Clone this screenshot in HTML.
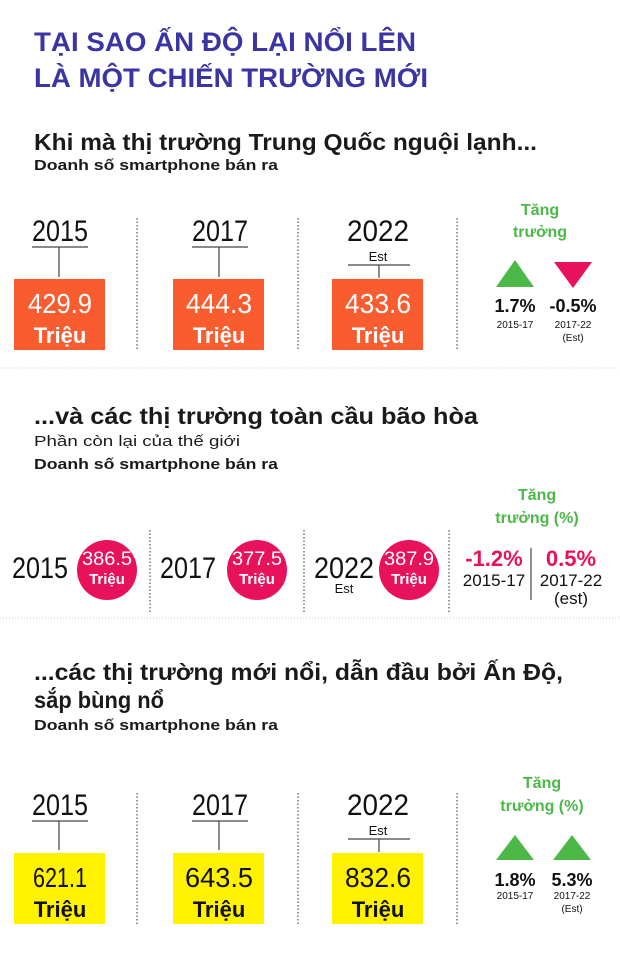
<!DOCTYPE html>
<html><head><meta charset="utf-8"><style>
html,body{margin:0;padding:0;background:#fff;}
svg{display:block;font-family:"Liberation Sans","DejaVu Sans",sans-serif;}
</style></head><body>
<svg width="620" height="960" viewBox="0 0 620 960" xmlns="http://www.w3.org/2000/svg">
<rect width="620" height="960" fill="#fff"/>
<g fill="#3b34a3" font-weight="bold" font-size="27">
<text x="34" y="51" textLength="382" lengthAdjust="spacingAndGlyphs">TẠI SAO ẤN ĐỘ LẠI NỔI LÊN</text>
<text x="34" y="87" textLength="394" lengthAdjust="spacingAndGlyphs">LÀ MỘT CHIẾN TRƯỜNG MỚI</text>
</g>
<g fill="#1a1a1a" font-weight="bold">
<text x="34" y="150" font-size="23" textLength="503" lengthAdjust="spacingAndGlyphs">Khi mà thị trường Trung Quốc nguội lạnh...</text>
<text x="34" y="170" font-size="15" textLength="244" lengthAdjust="spacingAndGlyphs">Doanh số smartphone bán ra</text>
<text x="34" y="424" font-size="23" textLength="444" lengthAdjust="spacingAndGlyphs">...và các thị trường toàn cầu bão hòa</text>
<text x="34" y="446" font-size="15" font-weight="normal" textLength="206" lengthAdjust="spacingAndGlyphs">Phần còn lại của thế giới</text>
<text x="34" y="469" font-size="15" textLength="244" lengthAdjust="spacingAndGlyphs">Doanh số smartphone bán ra</text>
<text x="34" y="680" font-size="23" textLength="529" lengthAdjust="spacingAndGlyphs">...các thị trường mới nổi, dẫn đầu bởi Ấn Độ,</text>
<text x="34" y="708" font-size="23" textLength="130" lengthAdjust="spacingAndGlyphs">sắp bùng nổ</text>
<text x="34" y="730" font-size="15" textLength="244" lengthAdjust="spacingAndGlyphs">Doanh số smartphone bán ra</text>
</g>
<!-- separators -->
<line x1="0" y1="368" x2="620" y2="368" stroke="#ccc" stroke-dasharray="1,2"/>
<line x1="0" y1="618" x2="620" y2="618" stroke="#ccc" stroke-dasharray="1,2"/>

<!-- Section 1 -->
<g stroke="#555" stroke-width="1.2" stroke-dasharray="1.5,2">
<line x1="137" y1="218" x2="137" y2="350"/><line x1="298" y1="218" x2="298" y2="350"/><line x1="457" y1="218" x2="457" y2="350"/>
<line x1="137" y1="793" x2="137" y2="925"/><line x1="298" y1="793" x2="298" y2="925"/><line x1="457" y1="793" x2="457" y2="925"/>
<line x1="150" y1="530" x2="150" y2="612"/><line x1="304" y1="530" x2="304" y2="612"/><line x1="449" y1="530" x2="449" y2="612"/>
</g>
<g stroke="#444" stroke-width="1.2" fill="none">
<path d="M32 247H88M59 247V277"/><path d="M192 247H248M219 247V277"/><path d="M348 265H410M379 265V278"/>
<path d="M32 821H88M59 821V850"/><path d="M192 821H248M219 821V850"/><path d="M348 839H410M379 839V852"/>
<line x1="531" y1="548" x2="531" y2="600"/>
</g>
<g fill="#111" font-size="30" text-anchor="middle">
<text x="60" y="241" textLength="56" lengthAdjust="spacingAndGlyphs">2015</text>
<text x="220" y="241" textLength="56" lengthAdjust="spacingAndGlyphs">2017</text>
<text x="378" y="241" textLength="62" lengthAdjust="spacingAndGlyphs">2022</text>
<text x="60" y="815" textLength="56" lengthAdjust="spacingAndGlyphs">2015</text>
<text x="220" y="815" textLength="56" lengthAdjust="spacingAndGlyphs">2017</text>
<text x="378" y="815" textLength="62" lengthAdjust="spacingAndGlyphs">2022</text>
<text x="40" y="578" textLength="56" lengthAdjust="spacingAndGlyphs">2015</text>
<text x="188" y="578" textLength="56" lengthAdjust="spacingAndGlyphs">2017</text>
<text x="344" y="578" textLength="60" lengthAdjust="spacingAndGlyphs">2022</text>
<text x="378" y="261" font-size="13">Est</text>
<text x="378" y="835" font-size="13">Est</text>
<text x="344" y="593" font-size="13">Est</text>
</g>
<g fill="#f95c2f"><rect x="14" y="279" width="91" height="71"/><rect x="173" y="279" width="91" height="71"/><rect x="332" y="279" width="91" height="71"/></g>
<g fill="#fff200"><rect x="14" y="853" width="91" height="71"/><rect x="173" y="853" width="91" height="71"/><rect x="332" y="853" width="91" height="71"/></g>
<g fill="#fff" text-anchor="middle">
<g font-size="28"><text x="60" y="313" textLength="64" lengthAdjust="spacingAndGlyphs">429.9</text><text x="219" y="313" textLength="66" lengthAdjust="spacingAndGlyphs">444.3</text><text x="378" y="313" textLength="66" lengthAdjust="spacingAndGlyphs">433.6</text></g>
<g font-size="22" font-weight="bold"><text x="60" y="343">Triệu</text><text x="219" y="343">Triệu</text><text x="378" y="343">Triệu</text></g>
</g>
<g fill="#111" text-anchor="middle">
<g font-size="28"><text x="60" y="887" textLength="54" lengthAdjust="spacingAndGlyphs">621.1</text><text x="219" y="887" textLength="68" lengthAdjust="spacingAndGlyphs">643.5</text><text x="378" y="887" textLength="66" lengthAdjust="spacingAndGlyphs">832.6</text></g>
<g font-size="22" font-weight="bold"><text x="60" y="917">Triệu</text><text x="219" y="917">Triệu</text><text x="378" y="917">Triệu</text></g>
</g>
<!-- circles -->
<g fill="#e8115b"><circle cx="107" cy="570" r="30"/><circle cx="257" cy="570" r="30"/><circle cx="409" cy="570" r="30"/></g>
<g fill="#fff" text-anchor="middle">
<g font-size="19"><text x="107" y="565" textLength="50" lengthAdjust="spacingAndGlyphs">386.5</text><text x="257" y="565" textLength="50" lengthAdjust="spacingAndGlyphs">377.5</text><text x="409" y="565" textLength="50" lengthAdjust="spacingAndGlyphs">387.9</text></g>
<g font-size="15" font-weight="bold"><text x="107" y="584">Triệu</text><text x="257" y="584">Triệu</text><text x="409" y="584">Triệu</text></g>
</g>
<!-- growth -->
<g fill="#4cb848" font-weight="bold" font-size="16" text-anchor="middle">
<text x="540" y="215">Tăng</text><text x="540" y="237">trưởng</text>
<text x="537" y="500">Tăng</text><text x="537" y="523">trưởng (%)</text>
<text x="542" y="788">Tăng</text><text x="542" y="811">trưởng (%)</text>
</g>
<polygon points="496,287 534,287 515,260" fill="#4cb848"/>
<polygon points="554,262 592,262 573,288" fill="#e8115b"/>
<polygon points="496,860 534,860 515,835" fill="#4cb848"/>
<polygon points="553,860 591,860 572,835" fill="#4cb848"/>
<g fill="#111" text-anchor="middle">
<g font-size="18" font-weight="bold"><text x="515" y="312">1.7%</text><text x="573" y="312">-0.5%</text><text x="515" y="886">1.8%</text><text x="572" y="886">5.3%</text></g>
<g font-size="10"><text x="515" y="328">2015-17</text><text x="573" y="328">2017-22</text><text x="573" y="341">(Est)</text>
<text x="515" y="899">2015-17</text><text x="572" y="899">2017-22</text><text x="572" y="912">(Est)</text></g>
<g font-size="17"><text x="494" y="586">2015-17</text><text x="571" y="586">2017-22</text><text x="571" y="604">(est)</text></g>
</g>
<g fill="#e8115b" font-size="22" font-weight="bold" text-anchor="middle"><text x="494" y="566">-1.2%</text><text x="571" y="566">0.5%</text></g>
</svg>
</body></html>
